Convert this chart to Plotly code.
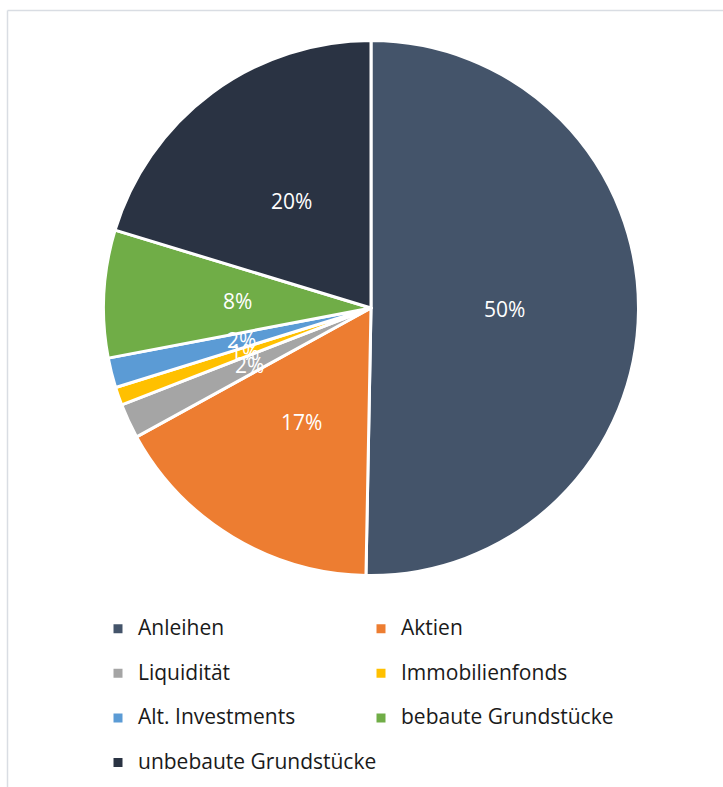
import math
import plotly.graph_objects as go

categories = ["Anleihen", "Aktien", "Liquidität", "Immobilienfonds",
              "Alt. Investments", "bebaute Grundstücke", "unbebaute Grundstücke"]
values = [50.3, 16.7, 2.1, 1.1, 1.8, 7.7, 20.3]
colors = ["#44546A", "#ED7D31", "#A5A5A5", "#FFC000", "#5B9BD5", "#70AD47", "#2A3343"]

W, H = 723, 787
FONT = "Open Sans"

# pie geometry (pixels)
CX, CY, R = 371.0, 308.0, 267.5
dom_x = [(CX - R) / W, (CX + R) / W]
dom_y = [1 - (CY + R) / H, 1 - (CY - R) / H]

# blank first line gives the taller legend rows of the reference
legend_labels = [f" <br><span style='font-size:21px'>{c}</span>" for c in categories]

fig = go.Figure(go.Pie(
    labels=legend_labels,
    values=values,
    sort=False,
    direction="clockwise",
    rotation=0,
    marker=dict(colors=colors, line=dict(color="white", width=3)),
    textinfo="none",
    hoverinfo="skip",
    domain=dict(x=dom_x, y=dom_y),
))

# percentage labels placed at half radius on each slice's bisector (Excel style)
total = sum(values)
annotations = []
cum = 0.0
for v in values:
    mid = (cum + v / 2) / total * 2 * math.pi
    cum += v
    px = CX + 0.5 * R * math.sin(mid)
    py = CY - 0.5 * R * math.cos(mid)
    annotations.append(dict(
        x=px / W, y=1 - py / H, xref="paper", yref="paper",
        text=f"{round(v / total * 100)}%", showarrow=False,
        xanchor="center", yanchor="middle",
        font=dict(family=FONT, size=21, color="white"),
    ))

fig.update_layout(
    width=W, height=H,
    margin=dict(l=0, r=0, t=0, b=0),
    paper_bgcolor="white",
    plot_bgcolor="white",
    font=dict(family=FONT, color="#1a1a1a"),
    showlegend=True,
    legend=dict(
        orientation="h",
        x=98 / W, xanchor="left",
        y=1 - 591 / H, yanchor="top",
        entrywidth=218, entrywidthmode="pixels",
        font=dict(family=FONT, size=16, color="#1a1a1a"),
        valign="bottom",
        traceorder="normal",
    ),
    annotations=annotations,
    shapes=[
        dict(type="line", xref="paper", yref="paper",
             x0=7.5 / W, x1=1.0, y0=1 - 10.5 / H, y1=1 - 10.5 / H,
             line=dict(color="#d9dde3", width=1.5)),
        dict(type="line", xref="paper", yref="paper",
             x0=7.5 / W, x1=7.5 / W, y0=1 - 10.5 / H, y1=0,
             line=dict(color="#d9dde3", width=1.5)),
    ],
)

fig.write_html("out.html")
